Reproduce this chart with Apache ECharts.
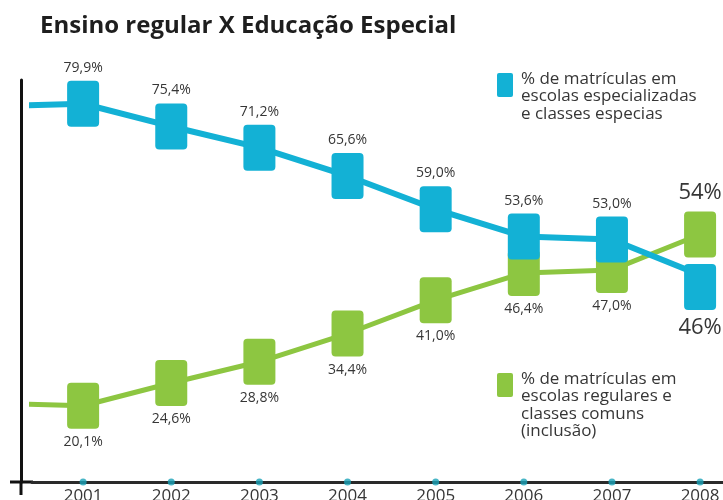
<!DOCTYPE html>
<html>
<head>
<meta charset="utf-8">
<script src="https://cdn.jsdelivr.net/npm/echarts@6/dist/echarts.min.js"></script>
<style>
html,body{margin:0;padding:0;background:#fff;}
#chart{width:723px;height:500px;}
</style>
</head>
<body>
<div id="chart"></div>
<script>
// ---- data ----
const years = [2001, 2002, 2003, 2004, 2005, 2006, 2007, 2008];
const especial = [79.9, 75.4, 71.2, 65.6, 59.0, 53.6, 53.0, 46];   // escolas especializadas
const regular  = [20.1, 24.6, 28.8, 34.4, 41.0, 46.4, 47.0, 54];   // escolas regulares (inclusão)
const leadYear = 2000;          // line enters from the previous year (unlabelled)
const especialLead = 79.4;
const regularLead = 20.6;
const titleText = 'Ensino regular X Educação Especial';
const legendEspecial = ['% de matrículas em', 'escolas especializadas', 'e classes especias'];
const legendRegular = ['% de matrículas em', 'escolas regulares e', 'classes comuns', '(inclusão)'];

// ---- style ----
const BLUE = '#13b1d5';
const GREEN = '#8dc641';
const TXT = '#363636';
const FONT = '"Open Sans", "Noto Sans", sans-serif';
const Y_MIN = 5, Y_MAX = 84.6;
const LAST = years[years.length - 1];

const boxPath = 'path://M4,0 H28 Q32,0 32,4 V42 Q32,46 28,46 H4 Q0,46 0,42 V4 Q0,0 4,0 Z';

function fmt(v, year) {
  return year === LAST ? Math.round(v) + '%' : v.toFixed(1).replace('.', ',') + '%';
}

function buildData(vals, lead, isBlue) {
  const out = [{ value: [leadYear, lead], symbol: 'none', label: { show: false } }];
  years.forEach((y, i) => {
    const item = { value: [y, vals[i]] };
    if (y === LAST) {
      item.label = { fontSize: 22, position: isBlue ? 'bottom' : 'top', distance: isBlue ? 7 : 8 };
      if (isBlue) item.symbolOffset = [0, 12];
    }
    out.push(item);
  });
  return out;
}

const chart = echarts.init(document.getElementById('chart'), null, { renderer: 'canvas' });

const legendGraphic = (top, color, lines) => [
  { type: 'rect', left: 497, top: top, shape: { width: 16, height: 24, r: 2 }, style: { fill: color } },
  { type: 'text', left: 521, top: top - 3, style: { text: lines.join('\n'), fill: TXT, font: '17px ' + FONT, lineHeight: 17.5 } }
];

chart.setOption({
  animation: false,
  backgroundColor: '#fff',
  title: {
    text: titleText, left: 35, top: 9,
    textStyle: { fontFamily: FONT, fontSize: 24, fontWeight: 'bold', color: '#1e1e1e' }
  },
  grid: { left: 32, right: 0, top: 80, bottom: 18, containLabel: false, outerBoundsMode: 'none' },
  xAxis: {
    type: 'value', min: 2000.42, max: 2008.26,
    axisLine: { show: true, lineStyle: { color: '#2a2a2a', width: 3 } },
    axisTick: { show: false },
    splitLine: { show: false },
    axisLabel: {
      customValues: years, formatter: v => String(v), margin: 6,
      fontFamily: FONT, fontSize: 17, color: TXT
    }
  },
  yAxis: {
    type: 'value', min: Y_MIN, max: Y_MAX, offset: 11,
    axisLine: { show: true, lineStyle: { color: '#111', width: 3 } },
    axisTick: { show: false }, axisLabel: { show: false }, splitLine: { show: false }
  },
  graphic: [
    { type: 'line', shape: { x1: 10, y1: 482, x2: 33, y2: 482 }, style: { stroke: '#111', lineWidth: 3 } },
    { type: 'line', shape: { x1: 21, y1: 481, x2: 21, y2: 495 }, style: { stroke: '#111', lineWidth: 3 } },
    ...legendGraphic(73, BLUE, legendEspecial),
    ...legendGraphic(373, GREEN, legendRegular)
  ],
  series: [
    {
      name: 'regular', type: 'line', data: buildData(regular, regularLead, false),
      symbol: boxPath, symbolSize: [32, 46], clip: false,
      lineStyle: { color: GREEN, width: 5 }, itemStyle: { color: GREEN },
      label: {
        show: true, position: 'bottom', distance: 6,
        fontFamily: FONT, fontSize: 14, color: TXT,
        formatter: p => fmt(p.value[1], p.value[0])
      },
      z: 2
    },
    {
      name: 'especial', type: 'line', data: buildData(especial, especialLead, true),
      symbol: boxPath, symbolSize: [32, 46], clip: false,
      lineStyle: { color: BLUE, width: 6 }, itemStyle: { color: BLUE },
      label: {
        show: true, position: 'top', distance: 6,
        fontFamily: FONT, fontSize: 14, color: TXT,
        formatter: p => fmt(p.value[1], p.value[0])
      },
      z: 3
    },
    {
      name: 'ticks', type: 'scatter', data: years.map(y => [y, Y_MIN]),
      symbol: 'circle', symbolSize: 7, clip: false,
      itemStyle: { color: '#1aa3b8' }, z: 4, silent: true
    }
  ]
});
</script>
</body>
</html>
